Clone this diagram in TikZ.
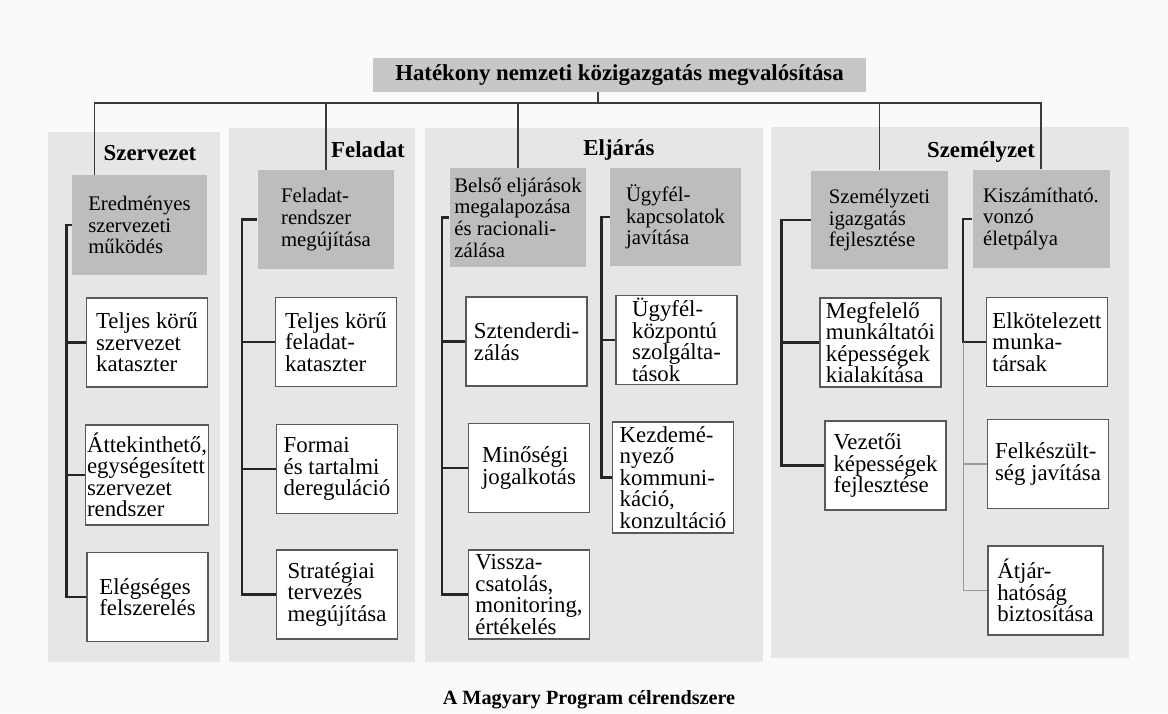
\documentclass[tikz,border=0pt]{standalone}
\usepackage{fontspec}
\setmainfont{Liberation Serif}
\usetikzlibrary{positioning, calc}

\definecolor{panelgray}{HTML}{E6E6E6}
\definecolor{boxgray}{HTML}{BDBDBD}
\definecolor{linegray}{HTML}{3A3A3A}

\begin{document}
\begin{tikzpicture}[
      x=0.02cm, y=-0.02cm,
      head/.style={
        font=\fontsize{13}{15}\selectfont\bfseries
      },
      goal/.style={
        rectangle, fill=boxgray,
        minimum width=2.74cm, minimum height=1.98cm,
        inner sep=1pt, align=left,
        font=\fontsize{11.8}{12.3}\selectfont
      },
      item/.style={
        rectangle, draw=black!65, line width=0.8pt, fill=white,
        minimum width=2.42cm, minimum height=1.78cm,
        inner sep=1pt, align=left,
        font=\fontsize{13}{12.2}\selectfont
      },
      link/.style={draw=linegray, line width=0.8pt},
      spine/.style={draw=black!85, line width=1.4pt},
      faint/.style={draw=black!40, line width=0.7pt}
    ]

    \useasboundingbox (0,0) rectangle (1168,713);
    \fill[black!2] (0,0) rectangle (1168,713);

    % --- Column panels ---
    \fill[panelgray] (48,132)  rectangle (220,662);
    \fill[panelgray] (229,128) rectangle (415,662);
    \fill[panelgray] (425,128) rectangle (763,662);
    \fill[panelgray] (771,127) rectangle (1129,658);

    % --- Main goal ---
    \node[fill=boxgray!85, minimum width=9.86cm, minimum height=0.68cm,
          font=\fontsize{13}{15}\selectfont\bfseries] (top) at (619.5,75)
          {Hatékony nemzeti közigazgatás megvalósítása};

    % --- Column headings ---
    \node[head] (h1) at (150,153) {Szervezet};
    \node[head] (h2) at (368,150) {Feladat};
    \node[head] (h3) at (619,150) {Eljárás};
    \node[head] (h4) at (981,152) {Személyzet};

    % --- Sub-goals (gray) ---
    \node[goal, minimum width=2.7cm, minimum height=2.0cm] (g1) at (139.5,225) {Eredményes\\szervezeti\\működés};
    \node[goal] (g2) at (326,219.5)  {Feladat-\\rendszer\\megújítása};
    \node[goal] (g3) at (518,217.5)  {Belső eljárások\\megalapozása\\és racionali-\\zálása};
    \node[goal, minimum width=2.62cm] (g4) at (675.5,217) {Ügyfél-\\kapcsolatok\\javítása};
    \node[goal] (g5) at (879.5,220)  {Személyzeti\\igazgatás\\fejlesztése};
    \node[goal] (g6) at (1041,219)   {Kiszámítható.\\vonzó\\életpálya};

    % --- Measures (white) ---
    \node[item] (a1) at (147,342.5) {Teljes körű\\szervezet\\kataszter};
    \node[item, minimum height=2.0cm] (a2) at (147,475) {Áttekinthető,\\egységesített\\szervezet\\rendszer};
    \node[item] (a3) at (147.5,597) {Elégséges\\felszerelés};

    \node[item] (b1) at (336,342)   {Teljes körű\\feladat-\\kataszter};
    \node[item] (b2) at (337,469)   {Formai\\és tartalmi\\dereguláció};
    \node[item] (b3) at (337,594.5) {Stratégiai\\tervezés\\megújítása};

    \node[item] (c1) at (526.5,341.5) {Sztenderdi-\\zálás};
    \node[item] (c2) at (529,468)     {Minőségi\\jogalkotás};
    \node[item] (c3) at (529,594.5)   {Vissza-\\csatolás,\\monitoring,\\értékelés};

    \node[item] (d1) at (676.5,340) {Ügyfél-\\központú\\szolgálta-\\tások};
    \node[item, minimum height=2.22cm] (d2) at (673,477.5) {Kezdemé-\\nyező\\kommuni-\\káció,\\konzultáció};

    \node[item] (e1) at (880.5,342.5) {Megfelelő\\munkáltatói\\képességek\\kialakítása};
    \node[item] (e2) at (885.5,465.5) {Vezetői\\képességek\\fejlesztése};

    \node[item] (f1) at (1047,342)   {Elkötelezett\\munka-\\társak};
    \node[item] (f2) at (1048,464)   {Felkészült-\\ség javítása};
    \node[item, minimum width=2.3cm] (f3) at (1045.5,590.5) {Átjár-\\hatóság\\biztosítása};

    % --- Links from the main goal ---
    \coordinate (bus) at (598,103);
    \draw[link] (top.south -| bus) -- (bus);
    \draw[link] (bus) -| ($(g1.north west)+(23,0)$);
    \draw[link] (bus) -| (g2.north);
    \draw[link] (bus) -| (g3.north);
    \draw[link] (bus) -| (g5.north);
    \draw[link] (bus) -| (g6.north);

    % --- Spines to the measures ---
    \draw[spine] (g1.west) -- ++(-5,0) coordinate (s1) |- (a3.west);
    \draw[spine] (s1 |- a1.west) -- (a1.west);
    \draw[spine] (s1 |- a2.west) -- (a2.west);

    \draw[spine] (g2.west) -- ++(-15,0) coordinate (s2) |- (b3.west);
    \draw[spine] (s2 |- b1.west) -- (b1.west);
    \draw[spine] (s2 |- b2.west) -- (b2.west);

    \draw[spine] (g3.west) -- ++(-7,0) coordinate (s3) |- (c3.west);
    \draw[spine] (s3 |- c1.west) -- (c1.west);
    \draw[spine] (s3 |- c2.west) -- (c2.west);

    \draw[spine] (g4.west) -- ++(-8,0) coordinate (s4) |- (d2.west);
    \draw[spine] (s4 |- d1.west) -- (d1.west);

    \draw[spine] (g5.west) -- ++(-29,0) coordinate (s5) |- (e2.west);
    \draw[spine] (s5 |- e1.west) -- (e1.west);

    \draw[spine] (g6.west) -- ++(-9,0) coordinate (s6) |- (f1.west);
    \draw[faint] (s6 |- f1.west) |- (f3.west);
    \draw[faint] (s6 |- f2.west) -- (f2.west);

    % --- Caption ---
    \node[font=\fontsize{11.5}{13}\selectfont\bfseries] (cap) at (589,700) {A Magyary Program célrendszere};

\end{tikzpicture}
\end{document}
